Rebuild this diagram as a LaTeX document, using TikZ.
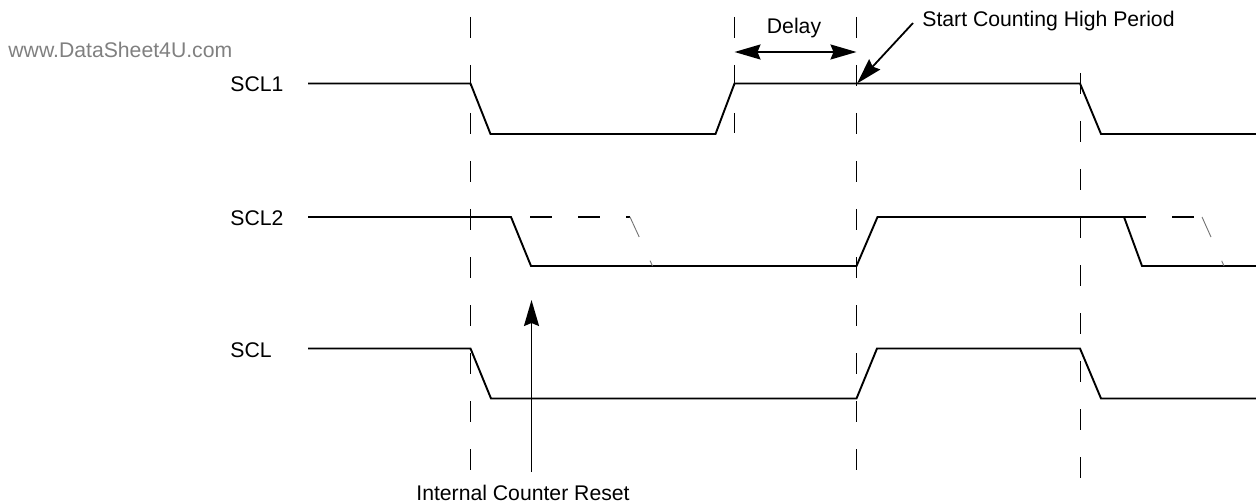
\documentclass[tikz,border=0pt]{standalone}
\usepackage{fontspec}
\setmainfont{Liberation Sans}
\usetikzlibrary{arrows.meta, positioning, calc}
\definecolor{wmgray}{gray}{0.5}
\tikzset{
    timingbase/.style={x=0.5pt, y=-0.5pt, font=\fontsize{10.6pt}{12pt}\selectfont},
    wave/.style={draw, line width=0.95pt, line join=miter},
    ghost/.style={draw, line width=0.95pt, dash pattern=on 11pt off 13pt},
    ghostedge/.style={draw, line width=0.45pt, black!55, dash pattern=on 11pt off 13pt},
    marker/.style={draw, line width=0.5pt, dash pattern=on 10.5pt off 13.5pt},
    siglabel/.style={anchor=base west, inner sep=0pt},
    notelabel/.style={inner sep=0pt},
    pointer/.style={draw, line width=0.9pt, -{Stealth[length=13pt, width=7.5pt, inset=1.5pt]}},
    span/.style={draw, line width=0.9pt, {Stealth[length=13pt, width=7.5pt, inset=1.5pt]}-{Stealth[length=13pt, width=7.5pt, inset=1.5pt]}},
}
\begin{document}
\begin{tikzpicture}[timingbase]
\useasboundingbox (0,0) rectangle (1256,502);

% ===================== WATERMARK =====================
\node[siglabel, text=wmgray] (wm) at (8,58) {www.DataSheet4U.com};

% ===================== TIME MARKERS =====================
\draw[marker] (470.5,17) -- (470.5,472);
\draw[marker] (734.5,17) -- (734.5,133);
\draw[marker] (856.5,17) -- (856.5,472);
\draw[marker] (1080,73) -- (1080,480);

% ===================== SIGNALS =====================
\node[siglabel] (scl1) at (230,92) {SCL1};
\node[siglabel] (scl2) at (230,225.5) {SCL2};
\node[siglabel] (scl) at (230,357) {SCL};

% SCL1
\draw[wave] (308,83.5) -- (470.5,83.5) -- (490.5,134) -- (715.5,134) -- (734.5,83.5)
    -- (1080,83.5) -- (1101,134) -- (1256,134);
% SCL2
\draw[wave] (308,217) -- (511,217) -- (531,266) -- (856.5,266) -- (877.5,217)
    -- (1124,217) -- (1142,266) -- (1256,266);
% SCL2 without delay (ghost)
\draw[ghost] (530,217) -- (630,217);
\draw[ghostedge] (630,217) -- (652.5,266);
\draw[ghost] (1124,217) -- (1202,217);
\draw[ghostedge] (1202,217) -- (1224,266);
% SCL
\draw[wave] (308,348.5) -- (470.5,348.5) -- (491,398.5) -- (856.5,398.5) -- (877,348.5)
    -- (1080,348.5) -- (1101,398.5) -- (1256,398.5);

% ===================== ANNOTATIONS =====================
% Delay
\coordinate (dly_l) at (734.5,52);
\coordinate (dly_r) at (856.5,52);
\node[notelabel, anchor=base] (delaylbl) at (794,34) {Delay};
\draw[span] (dly_l) -- (dly_r);

% Start of high period
\coordinate (hi_start) at (857,83.5);
\node[notelabel, anchor=base west] (startlbl) at (922,27) {Start Counting High Period};
\draw[pointer] ([xshift=-4.5pt, yshift=-0.75pt]startlbl.west) -- (hi_start);

% Counter reset
\coordinate (rst_tip) at (531.5,300);
\node[notelabel, anchor=base] (resetlbl) at (523,500) {Internal Counter Reset};
\draw[pointer, shorten <=6pt] (resetlbl.north -| rst_tip) -- (rst_tip);

\end{tikzpicture}
\end{document}
